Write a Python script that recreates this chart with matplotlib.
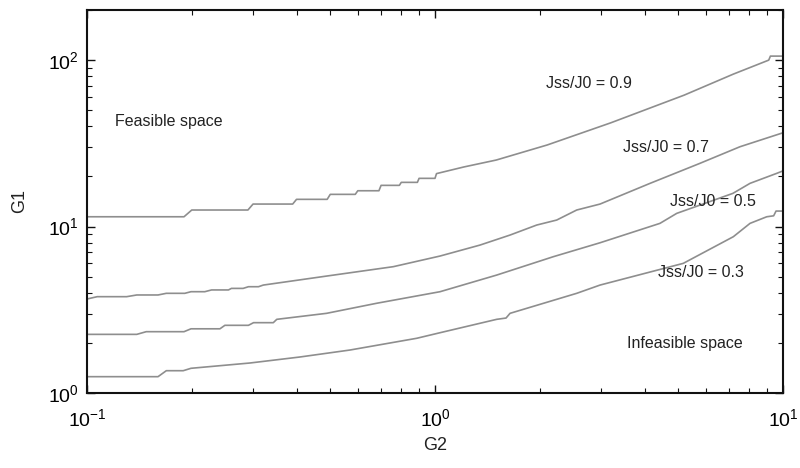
import matplotlib
matplotlib.use("Agg")
import matplotlib.pyplot as plt

plt.rcParams['font.family'] = ['Liberation Sans', 'DejaVu Sans']

# G2 / G1 values (stair vertices)
g2_09 = [0.1, 0.19, 0.2, 0.29, 0.3, 0.39, 0.4, 0.49, 0.5, 0.59, 0.6, 0.69, 0.7, 0.79,
         0.8, 0.89, 0.9, 1.0, 1.01, 1.21, 1.5, 2.1, 3.2, 5.2, 7.2, 9.1, 9.2, 10]
g1_09 = [11.45, 11.45, 12.57, 12.57, 13.65, 13.65, 14.57, 14.57, 15.61, 15.61, 16.41,
         16.41, 17.68, 17.68, 18.43, 18.43, 19.48, 19.48, 20.8, 22.8, 25.1, 30.9, 42.0,
         61.6, 82.4, 100, 105.7, 105.7]

g2_07 = [0.1, 0.107, 0.130, 0.139, 0.160, 0.169, 0.191, 0.199, 0.218, 0.228, 0.255,
         0.260, 0.281, 0.291, 0.311, 0.321, 0.488, 0.759, 1.034, 1.347, 1.643, 1.96,
         2.237, 2.554, 2.98, 4.15, 5.77, 7.52, 10]
g1_07 = [3.67, 3.79, 3.79, 3.88, 3.88, 3.97, 3.97, 4.06, 4.06, 4.16, 4.16, 4.25, 4.25,
         4.35, 4.35, 4.45, 5.04, 5.74, 6.65, 7.74, 8.89, 10.21, 10.94, 12.57, 13.65,
         18.18, 23.97, 30.16, 36.6]

g2_05 = [0.1, 0.139, 0.148, 0.190, 0.199, 0.241, 0.249, 0.291, 0.301, 0.343, 0.351,
         0.488, 0.680, 1.034, 1.504, 2.188, 2.98, 4.43, 4.95, 7.18, 8.04, 9.59, 10]
g1_05 = [2.25, 2.25, 2.335, 2.335, 2.43, 2.43, 2.55, 2.55, 2.645, 2.645, 2.77,
         3.01, 3.46, 4.06, 5.11, 6.59, 7.99, 10.45, 12.0, 15.83, 18.18, 20.87, 21.6]

g2_03 = [0.1, 0.160, 0.169, 0.189, 0.199, 0.294, 0.409, 0.570, 0.886, 1.034, 1.504,
         1.60, 1.643, 2.554, 2.98, 5.17, 7.20, 8.04, 8.98, 9.4, 9.55, 10]
g1_03 = [1.253, 1.253, 1.361, 1.361, 1.407, 1.514, 1.645, 1.812, 2.131, 2.302, 2.77,
         2.82, 3.01, 3.97, 4.45, 6.01, 8.69, 10.45, 11.45, 11.6, 12.39, 12.39]

curves = [(g2_09, g1_09), (g2_07, g1_07), (g2_05, g1_05), (g2_03, g1_03)]
labels = ['Jss/J0 = 0.9', 'Jss/J0 = 0.7', 'Jss/J0 = 0.5', 'Jss/J0 = 0.3']
label_pos = [(2.08, 72.3), (3.48, 30.0), (4.74, 14.1), (4.37, 5.26)]

fig = plt.figure(figsize=(8, 4.68), dpi=100)
ax = fig.add_axes([0.10875, 0.1603, 0.87, 0.8183])

for (xs, ys) in curves:
    ax.plot(xs, ys, color='#8e8e8e', lw=1.2)

for lab, (x, y) in zip(labels, label_pos):
    ax.text(x, y, lab, fontsize=11.5, va='center', ha='left', color='#222222')

ax.text(0.1204, 43, 'Feasible space', fontsize=11.5, va='center', ha='left', color='#222222')
ax.text(3.56, 1.97, 'Infeasible space', fontsize=11.5, va='center', ha='left', color='#222222')

ax.set_xscale('log')
ax.set_yscale('log')
ax.set_xlim(0.1, 10)
ax.set_ylim(1, 200)

ax.tick_params(which='both', direction='in', top=True, right=True, color='#111111')
ax.tick_params(which='major', length=6, width=1, labelsize=14)
ax.tick_params(which='minor', length=3.5, width=0.8)
ax.tick_params(axis='x', which='major', pad=11)
ax.tick_params(axis='y', which='major', pad=6)
for sp in ax.spines.values():
    sp.set_linewidth(1.5)
    sp.set_color('#111111')

ax.set_xlabel('G2', fontsize=13, labelpad=5, color='#222222')
ax.set_ylabel('G1', fontsize=13, labelpad=14, color='#222222')

fig.savefig('out.png', dpi=100)
